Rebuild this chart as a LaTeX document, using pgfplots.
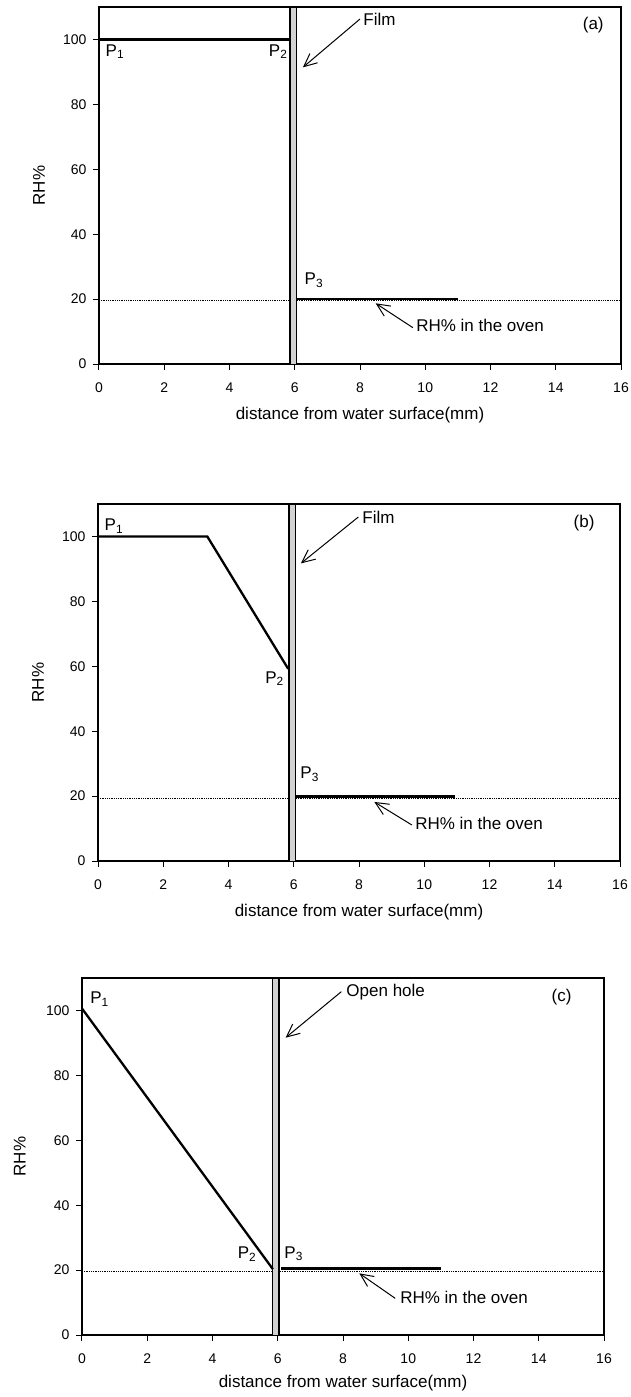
\documentclass[border=0pt]{standalone}
\usepackage{fontspec}
\setmainfont{Liberation Sans}
\usepackage{pgfplots}
\pgfplotsset{compat=1.18}
\usetikzlibrary{arrows.meta}

\pgfplotsset{
  rhpanel/.style={
    scale only axis,
    width=522pt, height=357pt,
    xmin=0, xmax=16, ymin=0, ymax=110,
    xtick={0,2,...,16}, ytick={0,20,...,100},
    xtick pos=bottom, ytick pos=left,
    tick align=outside,
    major tick length=6pt,
    axis line style={line width=1.1pt},
    every tick/.style={black, line width=1pt},
    /pgf/number format/assume math mode=true,
    tick label style={font=\fontsize{14}{14}\selectfont},
    xticklabel style={yshift=-9pt},
    yticklabel style={xshift=-3pt},
    label style={font=\fontsize{17}{17}\selectfont},
    xlabel={distance from water surface(mm)},
    ylabel={RH\%},
    xlabel style={at={(axis description cs:0.5,0)}, anchor=center, yshift=-51pt},
    clip=false,
  },
}
\tikzset{
  thickline/.style={black, line width=2.3pt},
  oven/.style={black, densely dotted, line width=0.8pt},
  film/.style={draw=black, line width=1pt, fill=gray!35},
  note/.style={font=\fontsize{17}{17}\selectfont, inner sep=0pt},
  callout/.style={-{Straight Barb[length=13pt,width=12pt]}, line width=1pt},
}

\begin{document}
\begin{tikzpicture}
\useasboundingbox (0pt,0pt) rectangle (631pt,-1397pt);

% ---------------- (a) closed film, no gradient below it ----------------
\begin{axis}[rhpanel, at={(99pt,-364pt)}, anchor=south west,
  ylabel style={at={(axis description cs:-0.115,0.5)}, anchor=center}]
  \addplot[oven, mark=none] coordinates {(0,19.5) (16,19.5)};
  \addplot[film, mark=none] coordinates {(5.85,0) (5.85,110) (6.05,110) (6.05,0)} -- cycle;
  \addplot[black, line width=2pt, mark=none] coordinates {(5.85,0) (5.85,110)};
  \addplot[thickline, mark=none] coordinates {(0,100) (5.85,100)};
  \addplot[thickline, mark=none] coordinates {(6.05,20) (11,20)};
  \node[note, anchor=west] at (axis cs:0.2,96.2) {P\textsubscript{1}};
  \node[note, anchor=east] at (axis cs:5.78,96.2) {P\textsubscript{2}};
  \node[note, anchor=west] at (axis cs:6.3,25.8) {P\textsubscript{3}};
  \node[note, anchor=west] at (axis cs:8.1,106.3) {Film};
  \draw[callout] (axis cs:8.0,106.3) -- (axis cs:6.25,91.4);
  \node[note, anchor=center] at (axis cs:15.15,104.3) {(a)};
  \node[note, anchor=west] at (axis cs:9.72,11.8) {RH\% in the oven};
  \draw[callout] (axis cs:9.62,11.2) -- (axis cs:8.48,18.7);
\end{axis}

% ---------------- (b) gradient between the water and the film ----------------
\begin{axis}[rhpanel, at={(98pt,-861pt)}, anchor=south west,
  ylabel style={at={(axis description cs:-0.115,0.5)}, anchor=center}]
  \addplot[oven, mark=none] coordinates {(0,19.3) (16,19.3)};
  \addplot[film, mark=none] coordinates {(5.85,0) (5.85,110) (6.05,110) (6.05,0)} -- cycle;
  \addplot[black, line width=2pt, mark=none] coordinates {(5.85,0) (5.85,110)};
  \addplot[thickline, mark=none] coordinates {(0,100) (3.35,100) (5.83,59.2)};
  \addplot[thickline, mark=none] coordinates {(6.05,19.9) (10.95,19.9)};
  \node[note, anchor=west] at (axis cs:0.2,103.2) {P\textsubscript{1}};
  \node[note, anchor=east] at (axis cs:5.7,56.2) {P\textsubscript{2}};
  \node[note, anchor=west] at (axis cs:6.2,26.8) {P\textsubscript{3}};
  \node[note, anchor=west] at (axis cs:8.1,106.0) {Film};
  \draw[callout] (axis cs:7.98,106.0) -- (axis cs:6.22,91.7);
  \node[note, anchor=center] at (axis cs:14.9,104.0) {(b)};
  \node[note, anchor=west] at (axis cs:9.72,11.7) {RH\% in the oven};
  \draw[callout] (axis cs:9.62,11.1) -- (axis cs:8.47,18.2);
\end{axis}

% ---------------- (c) open hole ----------------
\begin{axis}[rhpanel, at={(82pt,-1335pt)}, anchor=south west,
  ylabel style={at={(axis description cs:-0.119,0.5)}, anchor=center},
  xlabel style={yshift=3pt}]
  \addplot[oven, mark=none] coordinates {(0,19.5) (16,19.5)};
  \addplot[film, mark=none] coordinates {(5.84,0) (5.84,110) (6.05,110) (6.05,0)} -- cycle;
  \addplot[black, line width=2pt, mark=none] coordinates {(6.05,0) (6.05,110)};
  \addplot[thickline, mark=none] coordinates {(0,100.6) (5.85,20.3)};
  \addplot[thickline, mark=none] coordinates {(6.1,20.5) (11,20.5)};
  \node[note, anchor=west] at (axis cs:0.25,103.5) {P\textsubscript{1}};
  \node[note, anchor=east] at (axis cs:5.35,25) {P\textsubscript{2}};
  \node[note, anchor=west] at (axis cs:6.2,25) {P\textsubscript{3}};
  \node[note, anchor=west] at (axis cs:8.1,105.8) {Open hole};
  \draw[callout] (axis cs:7.95,105.8) -- (axis cs:6.24,91.6);
  \node[note, anchor=center] at (axis cs:14.7,104.0) {(c)};
  \node[note, anchor=west] at (axis cs:9.75,11.7) {RH\% in the oven};
  \draw[callout] (axis cs:9.6,11.3) -- (axis cs:8.5,19.0);
\end{axis}
\end{tikzpicture}
\end{document}
